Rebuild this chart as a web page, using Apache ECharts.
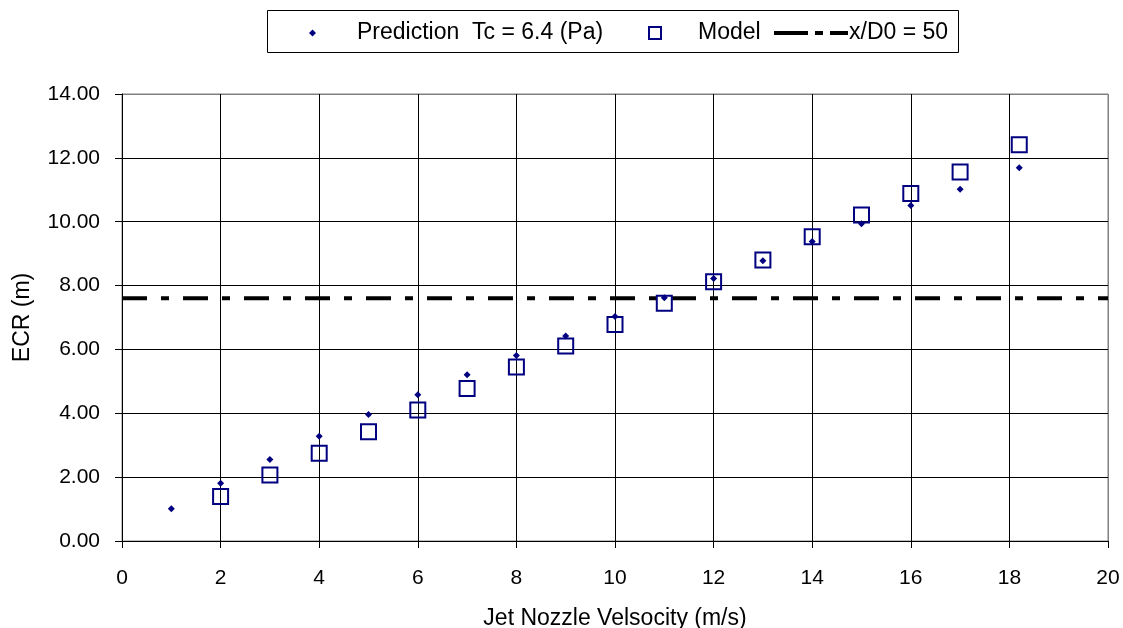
<!DOCTYPE html>
<html>
<head>
<meta charset="utf-8">
<script src="https://cdn.jsdelivr.net/npm/echarts@6/dist/echarts.min.js"></script>
<style>
html,body{margin:0;padding:0;background:#fff;}
#chart{width:1123px;height:628px;}
</style>
</head>
<body>
<div id="chart"></div>
<script>
// Data
var predictionX = [1, 2, 3, 4, 5, 6, 7, 8, 9, 10, 11, 12, 13, 14, 15, 16, 17, 18.2];
var predictionY = [1.01, 1.81, 2.55, 3.28, 3.96, 4.58, 5.21, 5.81, 6.42, 7.03, 7.62, 8.22, 8.78, 9.38, 9.94, 10.51, 11.02, 11.69];
var modelX = [2, 3, 4, 5, 6, 7, 8, 9, 10, 11, 12, 13, 14, 15, 16, 17, 18.2];
var modelY = [1.39, 2.07, 2.75, 3.42, 4.10, 4.78, 5.45, 6.11, 6.78, 7.45, 8.12, 8.80, 9.53, 10.21, 10.88, 11.56, 12.41];
var refLineX = [0, 20];
var refLineY = [7.6, 7.6];
var seriesNames = ['Prediction  Tc = 6.4 (Pa)', 'Model', 'x/D0 = 50'];
var xTitle = 'Jet Nozzle Velsocity (m/s)';
var yTitle = 'ECR (m)';

function zip(xs, ys) { return xs.map(function (x, i) { return [x, ys[i]]; }); }

var FONT = '"Liberation Sans", Arial, sans-serif';
var NAVY = '#000080';
var DASH = [25, 14, 8, 14];

var chart = echarts.init(document.getElementById('chart'), null, {renderer: 'canvas'});
var legendText = {fontFamily: FONT, fontSize: 23, color: '#000', lineHeight: 26};

var option = {
  backgroundColor: '#fff',
  animation: false,
  grid: {left: 122, right: 15, top: 94, bottom: 87, show: true, borderColor: '#808080', borderWidth: 1,
         containLabel: false, outerBoundsMode: 'none'},
  graphic: [{
    type: 'rect', left: 267, top: 10, z: 0,
    shape: {width: 691, height: 42},
    style: {fill: '#fff', stroke: '#000', lineWidth: 1}
  }],
  legend: [{
    data: [{name: seriesNames[0], icon: 'diamond'}],
    left: 309, top: 20, padding: 0, itemWidth: 7, itemHeight: 7,
    textStyle: Object.assign({padding: [0, 0, 0, 36]}, legendText)
  }, {
    data: [{name: seriesNames[1], icon: 'rect', itemStyle: {color: 'rgba(0,0,0,0)', borderColor: NAVY, borderWidth: 2, opacity: 1}}],
    left: 648, top: 20, padding: 0, itemWidth: 12, itemHeight: 12,
    textStyle: Object.assign({padding: [0, 0, 0, 32]}, legendText)
  }, {
    data: [{name: seriesNames[2], itemStyle: {opacity: 0}, lineStyle: {color: '#000', width: 4, type: [34, 7, 8, 7, 18, 7]}}],
    left: 772, top: 20, padding: 0, itemWidth: 75, itemHeight: 14,
    textStyle: Object.assign({padding: [0, 0, 0, -5]}, legendText)
  }],
  xAxis: {
    type: 'value', min: 0, max: 20, interval: 2,
    name: xTitle, nameLocation: 'middle', nameGap: 66,
    nameTextStyle: {fontFamily: FONT, fontSize: 23, color: '#000'},
    axisLine: {show: true, onZero: false, lineStyle: {color: '#000', width: 1}},
    axisTick: {show: true, inside: false, length: 7, lineStyle: {color: '#000'}},
    axisLabel: {fontFamily: FONT, fontSize: 21, color: '#000', margin: 27},
    splitLine: {show: true, lineStyle: {color: ['#000','#000','#000','#000','#000','#000','#000','#000','#000','#000','#808080'], width: 1}}
  },
  yAxis: {
    type: 'value', min: 0, max: 14, interval: 2,
    name: yTitle, nameLocation: 'middle', nameGap: 88, nameRotate: 90,
    nameTextStyle: {fontFamily: FONT, fontSize: 23, color: '#000'},
    axisLine: {show: true, onZero: false, lineStyle: {color: '#000', width: 1}},
    axisTick: {show: true, inside: false, length: 7, lineStyle: {color: '#000'}},
    axisLabel: {fontFamily: FONT, fontSize: 21, color: '#000', margin: 22,
      formatter: function (v) { return v.toFixed(2); }},
    splitLine: {show: true, lineStyle: {color: ['#000','#000','#000','#000','#000','#000','#000','#808080'], width: 1}}
  },
  series: [{
    name: seriesNames[2], type: 'line', data: zip(refLineX, refLineY),
    symbol: 'none', z: 2, silent: true,
    itemStyle: {color: '#000'},
    lineStyle: {color: '#000', width: 4, type: DASH}
  }, {
    name: seriesNames[0], type: 'scatter', data: zip(predictionX, predictionY),
    symbol: 'diamond', symbolSize: 7, z: 4,
    itemStyle: {color: NAVY, opacity: 1}
  }, {
    name: seriesNames[1], type: 'scatter', data: zip(modelX, modelY),
    symbol: 'rect', symbolSize: 15, z: 3,
    itemStyle: {color: 'rgba(0,0,0,0)', borderColor: NAVY, borderWidth: 2, opacity: 1}
  }]
};
chart.setOption(option);
</script>
</body>
</html>
